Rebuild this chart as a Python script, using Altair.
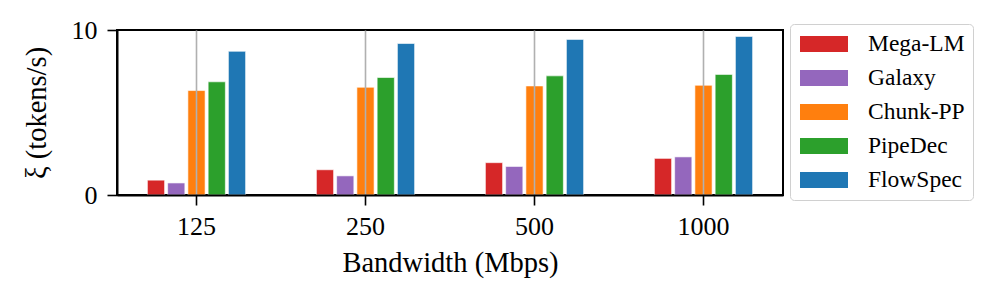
import altair as alt
import pandas as pd

bandwidths = ["125", "250", "500", "1000"]
systems = ["Mega-LM", "Galaxy", "Chunk-PP", "PipeDec", "FlowSpec"]
colors = ["#d62728", "#9467bd", "#ff7f0e", "#2ca02c", "#1f77b4"]

mega_lm = [0.90, 1.53, 1.96, 2.22]
galaxy = [0.73, 1.16, 1.73, 2.31]
chunk_pp = [6.33, 6.53, 6.61, 6.65]
pipedec = [6.86, 7.12, 7.22, 7.31]
flowspec = [8.71, 9.18, 9.43, 9.61]

series = [mega_lm, galaxy, chunk_pp, pipedec, flowspec]
rows = []
for name, vals in zip(systems, series):
    for bw, v in zip(bandwidths, vals):
        rows.append({"bandwidth": bw, "system": name, "value": v})
df = pd.DataFrame(rows)

FONT = "Liberation Serif"

chart = alt.Chart(df).mark_bar(stroke="white", strokeWidth=1, strokeOpacity=0.6).encode(
    x=alt.X(
        "bandwidth:N",
        sort=bandwidths,
        scale=alt.Scale(paddingInner=0.2, paddingOuter=0.0704),
        axis=alt.Axis(
            title="Bandwidth (Mbps)",
            labelAngle=0,
            grid=True,
            gridColor="#b0b0b0",
            gridWidth=1.6,
            bandPosition=0.5,
            ticks=True,
            tickSize=10,
            tickWidth=1.6,
            tickColor="black",
            labelPadding=8,
            titlePadding=9,
            domainColor="black",
            domainWidth=2,
            zindex=1,
            labelFontSize=26,
            titleFontSize=28.5,
            labelColor="black",
            titleColor="black",
            titleFontWeight="normal",
        ),
    ),
    xOffset=alt.XOffset(
        "system:N",
        sort=systems,
        scale=alt.Scale(paddingInner=0.15, paddingOuter=0.913),
    ),
    y=alt.Y(
        "value:Q",
        scale=alt.Scale(domain=[0, 10], nice=False),
        axis=alt.Axis(
            title="ξ (tokens/s)",
            values=[0, 10],
            grid=False,
            tickSize=10,
            tickWidth=1.6,
            tickColor="black",
            labelPadding=10,
            titlePadding=20,
            domainColor="black",
            domainWidth=2,
            labelFontSize=26,
            titleFontSize=28.5,
            labelColor="black",
            titleColor="black",
            titleFontWeight="normal",
        ),
    ),
    color=alt.Color(
        "system:N",
        sort=systems,
        scale=alt.Scale(domain=systems, range=colors),
        legend=alt.Legend(
            title=None,
            orient="none",
            legendX=673,
            legendY=-6,
            symbolType="M-2,-0.667H2V0.667H-2Z",
            symbolSize=576,
            symbolStrokeWidth=0,
            symbolOpacity=1,
            symbolOffset=14,
            labelOffset=32,
            labelFontSize=23.5,
            labelColor="black",
            padding=8,
            rowPadding=10,
            strokeColor="#d0d0d0",
            fillColor="white",
            cornerRadius=4,
        ),
    ),
).properties(
    width=666,
    height=165,
    padding={"left": 109, "top": 22, "right": 200, "bottom": 90},
    autosize=alt.AutoSizeParams(type="none"),
).configure(
    font=FONT,
).configure_view(
    stroke="black",
    strokeWidth=2,
).configure_axis(
    labelFont=FONT,
    titleFont=FONT,
).configure_legend(
    labelFont=FONT,
)

chart.save("out.html", embed_options={"renderer": "svg", "actions": False})
